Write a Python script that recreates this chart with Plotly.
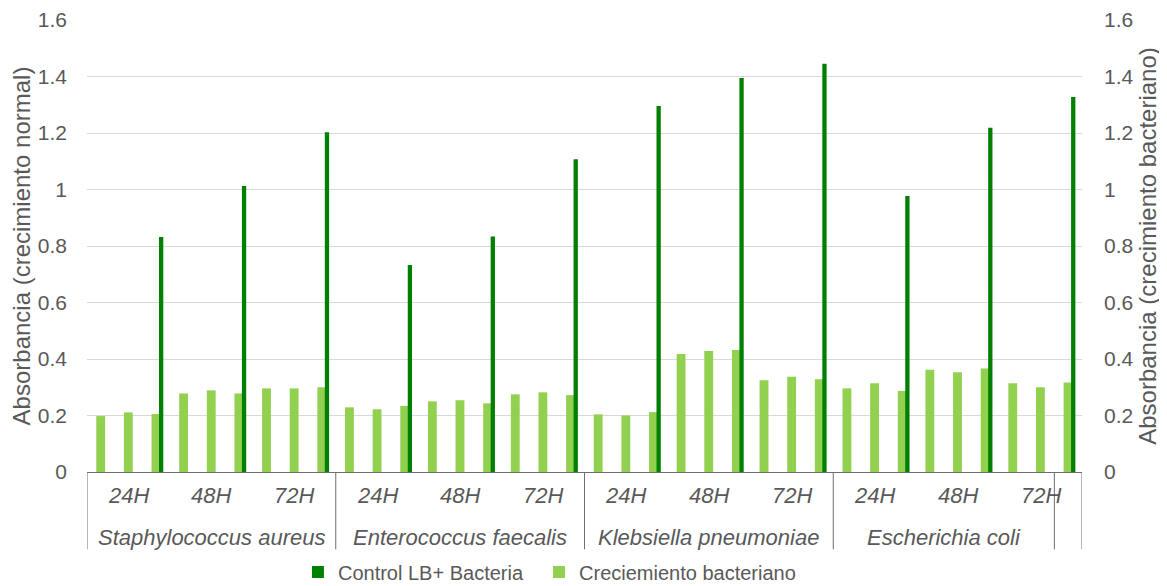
import plotly.graph_objects as go

# ---- data ----
bacteria = ["Staphylococcus aureus", "Enterococcus faecalis",
            "Klebsiella pneumoniae", "Escherichia coli", ""]
time_points = ["24H", "48H", "72H"]

# Creciemiento bacteriano: 3 readings per time point, 9 per bacterium
crecimiento = [
    0.198, 0.211, 0.205, 0.278, 0.289, 0.278, 0.296, 0.296, 0.300,   # S. aureus
    0.229, 0.222, 0.234, 0.250, 0.254, 0.243, 0.275, 0.282, 0.272,   # E. faecalis
    0.204, 0.200, 0.212, 0.418, 0.428, 0.432, 0.325, 0.337, 0.328,   # K. pneumoniae
    0.296, 0.314, 0.287, 0.362, 0.353, 0.366, 0.314, 0.300, 0.317,   # E. coli
]
# Control LB+ Bacteria: one value per time point (drawn at the 3rd reading)
control = [0.832, 1.012, 1.203,
           0.733, 0.834, 1.107,
           1.296, 1.395, 1.445,
           0.977, 1.219, 1.327]

# bacterium label for each bar (last bar falls into an unlabeled group)
bar_bacteria = [b for b in bacteria[:4] for _ in range(9)]
bar_bacteria[-1] = bacteria[4]
bar_time = [t for _ in range(4) for t in time_points for _ in range(3)]

y_ticks = [0, 0.2, 0.4, 0.6, 0.8, 1.0, 1.2, 1.4, 1.6]

# ---- style ----
FONT = "Liberation Sans, Arial, sans-serif"
TXT = "#595959"
LIGHT = "#92D050"
DARK = "#008000"
AXLINE = "#6e6e6e"
TICK_SIZE = 21
TITLE_SIZE = 24
CAT_SIZE = 22

# the page body adds an 8px offset; the figure is sized to compensate
W, H = 1159, 578

n = len(crecimiento)
x_all = list(range(n))
x_ctrl = [i for i in x_all if i % 3 == 2]

fig = go.Figure()
fig.add_trace(go.Bar(
    x=x_ctrl, y=control, name="Control LB+ Bacteria", yaxis="y2",
    marker=dict(color=DARK, line=dict(width=0)),
    width=0.155, offset=0.105, legend="legend",
))
fig.add_trace(go.Bar(
    x=x_all, y=crecimiento, name="Creciemiento bacteriano",
    marker=dict(color=LIGHT, line=dict(width=0)),
    width=0.32, offset=-0.165, legend="legend2",
))

# ---- category table (two levels) ----
shapes = []
annotations = []
y_time = -0.051
y_bac = -0.144
y_bottom = -0.171

bounds = [-0.5]
for i in range(1, n):
    if bar_bacteria[i] != bar_bacteria[i - 1]:
        bounds.append(i - 0.5)
bounds.append(n - 0.5)
for b in bounds:
    shapes.append(dict(type="line", xref="x", yref="paper", x0=b, x1=b,
                       y0=0, y1=y_bottom, line=dict(color=AXLINE, width=1)))

start = 0
for i in range(1, n + 1):
    if i == n or bar_bacteria[i] != bar_bacteria[start]:
        if bar_bacteria[start]:
            annotations.append(dict(
                x=(start + i - 1) / 2, y=y_bac, xref="x", yref="paper",
                text="<i>" + bar_bacteria[start] + "</i>", showarrow=False,
                font=dict(family=FONT, size=CAT_SIZE, color=TXT),
                xanchor="center", yanchor="middle"))
        start = i

for g in range(n // 3):
    annotations.append(dict(
        x=3 * g + 1, y=y_time, xref="x", yref="paper",
        text="<i>" + bar_time[3 * g] + "</i>", showarrow=False,
        font=dict(family=FONT, size=CAT_SIZE, color=TXT),
        xanchor="center", yanchor="middle"))

legend_common = dict(orientation="h", xanchor="left", y=-0.2212,
                     yanchor="middle", font=dict(size=20, color=TXT),
                     itemwidth=30, bgcolor="rgba(0,0,0,0)")

fig.update_layout(
    width=W, height=H,
    margin=dict(l=79, r=85, t=12, b=114, autoexpand=False),
    paper_bgcolor="white", plot_bgcolor="white",
    font=dict(family=FONT, size=20, color=TXT),
    barmode="overlay",
    showlegend=True,
    legend=dict(x=0.212, **legend_common),
    legend2=dict(x=0.4543, **legend_common),
    xaxis=dict(range=[-0.5, n - 0.5], showticklabels=False, ticks="",
               showgrid=False, zeroline=False, showline=True,
               linecolor=AXLINE, linewidth=1, automargin=False),
    yaxis=dict(range=[0, 1.6], tickvals=y_ticks,
               ticktext=[f"{v:g}" for v in y_ticks],
               tickfont=dict(size=TICK_SIZE, color=TXT),
               showgrid=True, gridcolor="#d9d9d9", gridwidth=1,
               zeroline=False, showline=False, ticks="",
               ticklabelstandoff=19, automargin=False,
               title=dict(text="Absorbancia (crecimiento normal)",
                          font=dict(size=TITLE_SIZE, color=TXT), standoff=6)),
    yaxis2=dict(range=[0, 1.6], tickvals=y_ticks,
                ticktext=[f"{v:g}" for v in y_ticks],
                tickfont=dict(size=TICK_SIZE, color=TXT),
                overlaying="y", side="right", showgrid=False,
                zeroline=False, showline=False, ticks="",
                ticklabelstandoff=21, automargin=False,
                title=dict(text="Absorbancia (crecimiento bacteriano)",
                           font=dict(size=TITLE_SIZE, color=TXT), standoff=6)),
    shapes=shapes,
    annotations=annotations,
)

fig.write_html("out.html")
